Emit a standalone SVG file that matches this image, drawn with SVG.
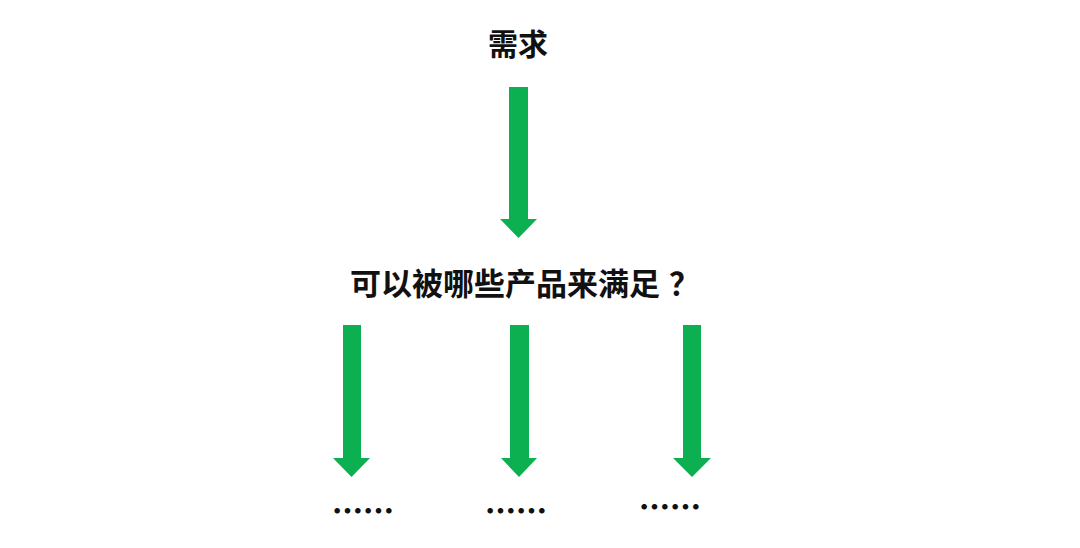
<svg xmlns="http://www.w3.org/2000/svg" width="1080" height="548" viewBox="0 0 1080 548">
<style>
.t{font-family:"Noto Sans CJK SC","Noto Sans",sans-serif;font-weight:bold;fill:#111}
.d{font-family:"Noto Sans CJK SC",sans-serif;font-weight:900;fill:#111;font-size:31px}
.a{fill:#0DB050}
</style>
<rect width="1080" height="548" fill="#fff"/>
<g id="need"><text class="t" x="518" y="55" font-size="30" text-anchor="middle">需求</text></g>
<g id="question"><text class="t" x="350" y="295" font-size="31">可以被哪些产品来满足<tspan dx="9">？</tspan></text></g>
<g id="more1"><text class="d" x="332" y="522">……</text></g>
<g id="more2"><text class="d" x="485" y="522">……</text></g>
<g id="more3"><text class="d" x="639" y="518">……</text></g>
<g id="connectors">
<path class="a" d="M509,87H528V219H537L518.5,238L500,219H509Z"/>
<path class="a" d="M343,325H361V458H370L351.5,477L333,458H343Z"/>
<path class="a" d="M510,325H529V458H537L519,477L501,458H510Z"/>
<path class="a" d="M683,325H701V458H711L692,477L673,458H683Z"/>
</g>
</svg>
